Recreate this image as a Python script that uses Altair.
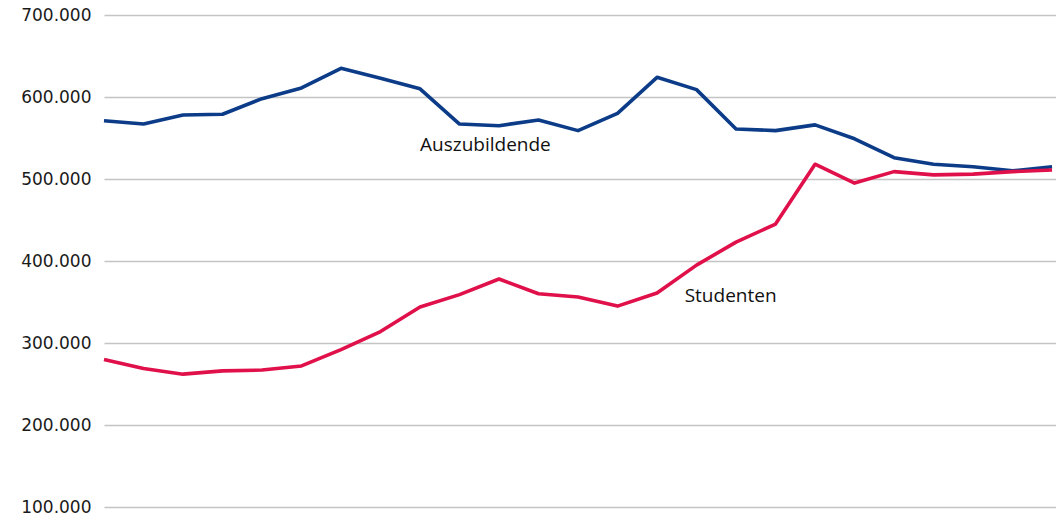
import altair as alt
import pandas as pd

years = list(range(1993, 2018))
auszubildende = [571000, 567000, 578000, 579000, 598000, 611000, 635000, 623000, 610000, 567000,
                 565000, 572000, 559000, 580000, 624000, 609000, 561000, 559000, 566000, 549000,
                 526000, 518000, 515000, 510000, 515000]
studenten = [280000, 269000, 262000, 266000, 267000, 272000, 292000, 314000, 344000, 359000,
             378000, 360000, 356000, 345000, 361000, 395000, 423000, 445000, 518000, 495000,
             509000, 505000, 506000, 509000, 511000]
series_names = ["Auszubildende", "Studenten"]
series_colors = ["#0c3c88", "#e0104a"]
y_ticks = [100000, 200000, 300000, 400000, 500000, 600000, 700000]

label_text = ["Auszubildende", "Studenten"]
label_year = [2001.0, 2007.7]
label_value = [541000, 357000]

rows = []
for y, a, s in zip(years, auszubildende, studenten):
    rows.append({"Jahr": y, "Wert": a, "Reihe": "Auszubildende"})
    rows.append({"Jahr": y, "Wert": s, "Reihe": "Studenten"})
df = pd.DataFrame(rows)
labels = pd.DataFrame({"Jahr": label_year, "Wert": label_value, "Text": label_text})

x_scale = alt.Scale(domain=[1993, 2017.1], nice=False, zero=False)
y_scale = alt.Scale(domain=[100000, 700000], nice=False, zero=False)

lines = alt.Chart(df).mark_line(strokeWidth=3.6, strokeJoin="round").encode(
    x=alt.X("Jahr:Q", scale=x_scale, axis=None),
    y=alt.Y("Wert:Q", scale=y_scale,
            axis=alt.Axis(values=y_ticks, title=None, domain=False, ticks=False,
                          labelExpr="replace(format(datum.value, ',.0f'), ',', '.')",
                          labelFont="DejaVu Sans", labelFontSize=17, labelColor="#1a1a1a",
                          labelPadding=13, grid=True, gridColor="#c4c4c4", gridWidth=1.5)),
    color=alt.Color("Reihe:N", scale=alt.Scale(domain=series_names, range=series_colors), legend=None),
)

text = alt.Chart(labels).mark_text(align="left", baseline="middle", font="Open Sans",
                                   fontSize=19, color="#111111").encode(
    x=alt.X("Jahr:Q", scale=x_scale),
    y=alt.Y("Wert:Q", scale=y_scale),
    text="Text:N",
)

chart = (lines + text).properties(
    width=952, height=492,
    autosize=alt.AutoSizeParams(type="none"),
    padding={"left": 96, "top": 7, "right": 0, "bottom": 6},
).configure_view(stroke=None)

chart.save("out.html", embed_options={"renderer": "svg", "actions": False})
